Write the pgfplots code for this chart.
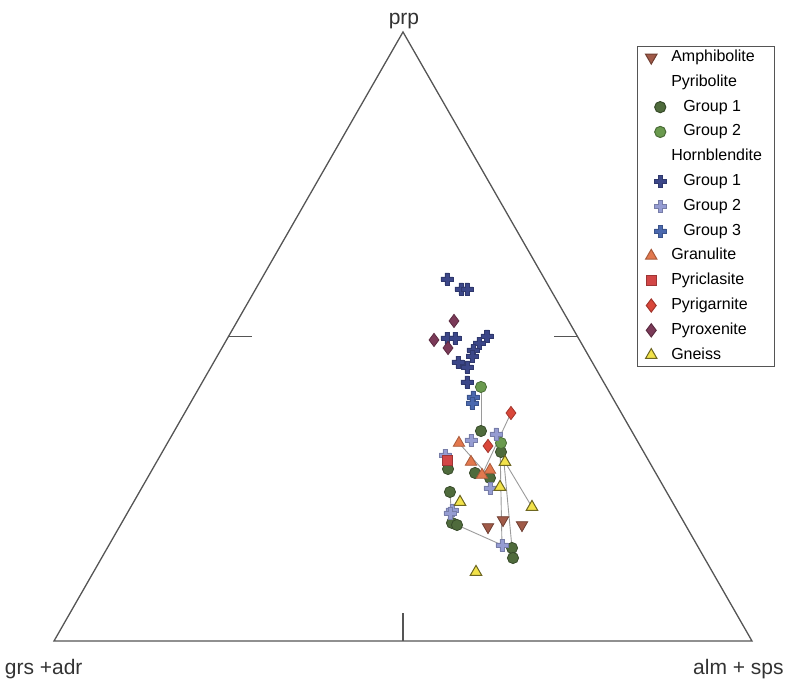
\documentclass[border=0pt]{standalone}
\usepackage{fontspec}
\setmainfont{Liberation Sans}
\usepackage{pgfplots}
\pgfplotsset{compat=1.18}
\definecolor{amph}{HTML}{A05A48}
\definecolor{pyrA}{HTML}{4F6B3C}
\definecolor{pyrB}{HTML}{6A9A4E}
\definecolor{hbA}{HTML}{3B4688}
\definecolor{hbB}{HTML}{959CD2}
\definecolor{hbC}{HTML}{4A68AE}
\definecolor{gran}{HTML}{E2784E}
\definecolor{pcl}{HTML}{D24646}
\definecolor{pgr}{HTML}{D9473A}
\definecolor{pxn}{HTML}{7B3A58}
\definecolor{gns}{HTML}{F2E24A}
\definecolor{frame}{HTML}{555555}
\definecolor{tie}{HTML}{9A9A9A}
\pgfdeclareplotmark{fatplus}{%
  \pgfpathmoveto{\pgfpoint{-0.36\pgfplotmarksize}{\pgfplotmarksize}}%
  \pgfpathlineto{\pgfpoint{0.36\pgfplotmarksize}{\pgfplotmarksize}}%
  \pgfpathlineto{\pgfpoint{0.36\pgfplotmarksize}{0.36\pgfplotmarksize}}%
  \pgfpathlineto{\pgfpoint{\pgfplotmarksize}{0.36\pgfplotmarksize}}%
  \pgfpathlineto{\pgfpoint{\pgfplotmarksize}{-0.36\pgfplotmarksize}}%
  \pgfpathlineto{\pgfpoint{0.36\pgfplotmarksize}{-0.36\pgfplotmarksize}}%
  \pgfpathlineto{\pgfpoint{0.36\pgfplotmarksize}{-\pgfplotmarksize}}%
  \pgfpathlineto{\pgfpoint{-0.36\pgfplotmarksize}{-\pgfplotmarksize}}%
  \pgfpathlineto{\pgfpoint{-0.36\pgfplotmarksize}{-0.36\pgfplotmarksize}}%
  \pgfpathlineto{\pgfpoint{-\pgfplotmarksize}{-0.36\pgfplotmarksize}}%
  \pgfpathlineto{\pgfpoint{-\pgfplotmarksize}{0.36\pgfplotmarksize}}%
  \pgfpathlineto{\pgfpoint{-0.36\pgfplotmarksize}{0.36\pgfplotmarksize}}%
  \pgfpathclose
  \pgfusepathqfillstroke}
\pgfplotsset{
  legimg/.style={legend image code/.code={\draw[##1] plot coordinates {(0pt,0pt)};}},
  legind/.style={legend image code/.code={\draw[##1] plot coordinates {(4.5pt,0pt)};}},
}
\begin{document}
\begin{tikzpicture}
\begin{axis}[
  scale only axis, width=397pt, height=342pt,
  xmin=-7.736, xmax=106.02, ymin=-7.061, ymax=105.25,
  hide axis, clip=false,
  legimg,
  legend cell align=left,
  legend style={at={(0.8023,0.9327)}, anchor=north west, draw=frame, line width=0.5pt,
    font=\fontsize{8pt}{9.6pt}\selectfont, inner xsep=4pt, inner ysep=1.5pt,
    row sep=4.4pt, column sep=0pt,
    nodes={inner xsep=2.5pt, inner ysep=0pt, text height=6pt, text depth=2pt}},
]
% picture extent = whole axis box
\path (rel axis cs:0,0) rectangle (rel axis cs:1,1);
% triangle frame and mid-side ticks
\addplot[forget plot, draw=frame, line width=0.65pt, line join=miter] coordinates {(0,0) (100,0) (50,100)} -- cycle;
\addplot[forget plot, draw=frame, line width=0.65pt] coordinates {(50,0) (50,4.6)};
\addplot[forget plot, draw=frame, line width=0.65pt] coordinates {(25,50) (28.4,50)};
\addplot[forget plot, draw=frame, line width=0.65pt] coordinates {(75,50) (71.7,50)};
% tie lines
\addplot[forget plot, draw=tie, line width=0.45pt] coordinates {(61.17,41.71) (61.17,34.48)};
\addplot[forget plot, draw=tie, line width=0.45pt] coordinates {(65.47,37.44) (61.32,27.26)};
\addplot[forget plot, draw=tie, line width=0.45pt] coordinates {(58.02,32.51) (62.46,26.77)};
\addplot[forget plot, draw=tie, line width=0.45pt] coordinates {(64.61,29.39) (68.48,22.00)};
\addplot[forget plot, draw=tie, line width=0.45pt] coordinates {(63.90,32.51) (64.18,15.76)};
\addplot[forget plot, draw=tie, line width=0.45pt] coordinates {(64.33,31.03) (65.62,15.27)};
\addplot[forget plot, draw=tie, line width=0.45pt] coordinates {(57.74,19.05) (64.18,15.76)};
\addplot[forget plot, draw=tie, line width=0.45pt] coordinates {(56.73,24.47) (57.02,19.38)};
% data
\addplot[only marks, mark=triangle*, mark options={rotate=180}, mark size=3.3pt, fill=amph, draw=amph!70!black] coordinates {
(62.18,18.72) (64.33,19.87) (67.05,19.05)};
\addlegendentry{Amphibolite}
\addlegendimage{empty legend}
\addlegendentry{Pyribolite}
\addplot[only marks, mark=*, mark size=2.8pt, fill=pyrA, draw=pyrA!70!black, legind] coordinates {
(61.17,34.48) (56.73,24.47) (57.02,19.38) (57.74,19.05) (65.62,15.27) (65.76,13.63)
(60.32,27.59) (62.46,26.77) (56.45,28.24) (64.04,31.03)};
\addlegendentry{\hspace{6pt}Group 1}
\addplot[only marks, mark=*, mark size=2.8pt, fill=pyrB, draw=pyrB!70!black, legind] coordinates {
(61.17,41.71) (64.04,32.51)};
\addlegendentry{\hspace{6pt}Group 2}
\addlegendimage{empty legend}
\addlegendentry{Hornblendite}
\addplot[only marks, mark=fatplus, mark size=3pt, fill=hbA, draw=hbA!80!black, line width=0.3pt, legind] coordinates {
(56.30,59.44) (58.31,57.80) (59.17,57.80) (56.30,49.75) (57.45,49.75) (62.03,50.08)
(60.89,48.93) (60.03,47.78) (59.89,46.80) (57.88,45.81) (59.17,44.99) (59.17,42.53)};
\addlegendentry{\hspace{6pt}Group 1}
\addplot[only marks, mark=fatplus, mark size=3pt, fill=hbB, draw=hbB!80!black, line width=0.3pt, legind] coordinates {
(59.74,33.00) (63.32,33.99) (56.02,30.54) (62.46,25.12) (57.02,21.51) (56.73,21.02) (64.18,15.76)};
\addlegendentry{\hspace{6pt}Group 2}
\addplot[only marks, mark=fatplus, mark size=3pt, fill=hbC, draw=hbC!80!black, line width=0.3pt, legind] coordinates {
(60.03,40.07) (59.89,39.08)};
\addlegendentry{\hspace{6pt}Group 3}
\addplot[only marks, mark=triangle*, mark size=3.3pt, fill=gran, draw=gran!75!black] coordinates {
(58.02,32.51) (59.74,29.39) (62.46,28.08) (61.32,27.26)};
\addlegendentry{Granulite}
\addplot[only marks, mark=square*, mark size=2.5pt, fill=pcl, draw=pcl!75!black] coordinates {
(56.30,29.72)};
\addlegendentry{Pyriclasite}
\addplot[only marks, mark=diamond*, mark size=3.3pt, fill=pgr, draw=pgr!75!black] coordinates {
(65.47,37.44) (62.18,32.02)};
\addlegendentry{Pyrigarnite}
\addplot[only marks, mark=diamond*, mark size=3.3pt, fill=pxn, draw=pxn!75!black] coordinates {
(57.31,52.55) (54.44,49.43) (56.45,48.11)};
\addlegendentry{Pyroxenite}
\addplot[only marks, mark=triangle*, mark size=3.3pt, fill=gns, draw=gns!45!black, line width=0.5pt] coordinates {
(64.61,29.39) (63.90,25.29) (68.48,22.00) (58.17,22.82) (60.46,11.33)};
\addlegendentry{Gneiss}
% corner labels
\node[anchor=base, font=\fontsize{10.5pt}{12pt}\selectfont, text=black!80] at (axis cs:50.14,101.15) {prp};
\node[anchor=base west, inner xsep=0pt, font=\fontsize{10.5pt}{12pt}\selectfont, text=black!80] at (axis cs:-7.1,-5.42) {grs +adr};
\node[anchor=base east, inner xsep=0pt, font=\fontsize{10.5pt}{12pt}\selectfont, text=black!80] at (axis cs:104.6,-5.42) {alm + sps};
\end{axis}
\end{tikzpicture}
\end{document}
